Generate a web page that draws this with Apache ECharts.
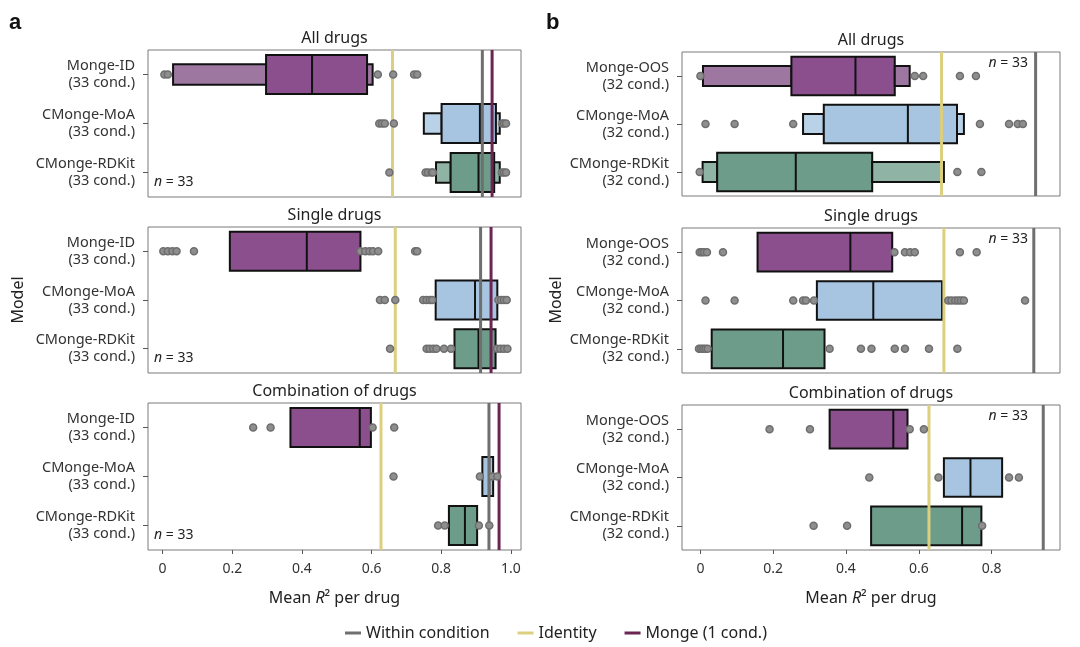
<!DOCTYPE html>
<html>
<head>
<meta charset="utf-8">
<script src="https://cdn.jsdelivr.net/npm/echarts@6/dist/echarts.min.js"></script>
<style>
  html, body { margin: 0; padding: 0; background: #fff; }
  #chart { width: 1080px; height: 647px; }
</style>
</head>
<body>
<div id="chart"></div>
<script>
// categories
var modelsA = ['Monge-ID\n(33 cond.)', 'CMonge-MoA\n(33 cond.)', 'CMonge-RDKit\n(33 cond.)'];
var modelsB = ['Monge-OOS\n(32 cond.)', 'CMonge-MoA\n(32 cond.)', 'CMonge-RDKit\n(32 cond.)'];
var panelTitles = ['All drugs', 'Single drugs', 'Combination of drugs'];
var tickValuesA = [0, 0.2, 0.4, 0.6, 0.8, 1.0];
var tickValuesB = [0, 0.2, 0.4, 0.6, 0.8];

// boxes: [model, low, high, level]  (level 1 = quartile box, 2 = next letter value)
var boxesA_all = [
  [0, 0.030, 0.297, 2], [0, 0.297, 0.587, 1], [0, 0.587, 0.603, 2],
  [1, 0.750, 0.801, 2], [1, 0.801, 0.957, 1], [1, 0.957, 0.968, 2],
  [2, 0.785, 0.827, 2], [2, 0.827, 0.952, 1], [2, 0.952, 0.968, 2]
];
var mediansA_all = [0.429, 0.911, 0.907];
var outliersA_all = [
  [0, 0.005], [0, 0.015], [0, 0.618], [0, 0.662], [0, 0.722], [0, 0.731],
  [1, 0.622], [1, 0.630], [1, 0.638], [1, 0.664], [1, 0.975], [1, 0.980], [1, 0.986],
  [2, 0.651], [2, 0.755], [2, 0.762], [2, 0.772], [2, 0.776], [2, 0.974], [2, 0.980], [2, 0.986]
];
var refA_all = [0.918, 0.660, 0.946]; // within condition, identity, monge (1 cond.)

var boxesA_single = [[0, 0.193, 0.568, 1], [1, 0.784, 0.961, 1], [2, 0.838, 0.956, 1]];
var mediansA_single = [0.414, 0.897, 0.907];
var outliersA_single = [
  [0, 0.002], [0, 0.015], [0, 0.028], [0, 0.040], [0, 0.090],
  [0, 0.568], [0, 0.582], [0, 0.594], [0, 0.604], [0, 0.619], [0, 0.725], [0, 0.731],
  [1, 0.624], [1, 0.638], [1, 0.668], [1, 0.748], [1, 0.758], [1, 0.767], [1, 0.774],
  [1, 0.964], [1, 0.972], [1, 0.980], [1, 0.988],
  [2, 0.653], [2, 0.758], [2, 0.767], [2, 0.777], [2, 0.786], [2, 0.808], [2, 0.828],
  [2, 0.960], [2, 0.970], [2, 0.980], [2, 0.990]
];
var refA_single = [0.913, 0.668, 0.943];

var boxesA_comb = [[0, 0.367, 0.598, 1], [1, 0.918, 0.949, 1], [2, 0.822, 0.903, 1]];
var mediansA_comb = [0.566, 0.938, 0.868];
var outliersA_comb = [
  [0, 0.260], [0, 0.310], [0, 0.603], [0, 0.665],
  [1, 0.663], [1, 0.911], [1, 0.947], [1, 0.961],
  [2, 0.791], [2, 0.810], [2, 0.908], [2, 0.938]
];
var refA_comb = [0.937, 0.627, 0.966];

var boxesB_all = [
  [0, 0.007, 0.250, 2], [0, 0.250, 0.534, 1], [0, 0.534, 0.575, 2],
  [1, 0.282, 0.339, 2], [1, 0.339, 0.705, 1], [1, 0.705, 0.724, 2],
  [2, 0.006, 0.046, 2], [2, 0.046, 0.472, 1], [2, 0.472, 0.669, 2]
];
var mediansB_all = [0.426, 0.570, 0.262];
var outliersB_all = [
  [0, 0.000], [0, 0.589], [0, 0.612], [0, 0.713], [0, 0.757],
  [1, 0.014], [1, 0.094], [1, 0.255], [1, 0.768], [1, 0.848], [1, 0.872], [1, 0.886],
  [2, -0.002], [2, 0.706], [2, 0.772]
];
var refB_all = [0.921, 0.6625];

var boxesB_single = [[0, 0.157, 0.527, 1], [1, 0.320, 0.664, 1], [2, 0.031, 0.341, 1]];
var mediansB_single = [0.412, 0.475, 0.227];
var outliersB_single = [
  [0, -0.002], [0, 0.004], [0, 0.010], [0, 0.018], [0, 0.062],
  [0, 0.533], [0, 0.562], [0, 0.576], [0, 0.589], [0, 0.713], [0, 0.759],
  [1, 0.014], [1, 0.094], [1, 0.255], [1, 0.282], [1, 0.290], [1, 0.312],
  [1, 0.681], [1, 0.690], [1, 0.700], [1, 0.708], [1, 0.716], [1, 0.724], [1, 0.892],
  [2, -0.004], [2, 0.002], [2, 0.008], [2, 0.014], [2, 0.020],
  [2, 0.355], [2, 0.441], [2, 0.470], [2, 0.534], [2, 0.562], [2, 0.628], [2, 0.706]
];
var refB_single = [0.916, 0.669];

var boxesB_comb = [[0, 0.355, 0.569, 1], [1, 0.669, 0.829, 1], [2, 0.469, 0.772, 1]];
var mediansB_comb = [0.530, 0.742, 0.719];
var outliersB_comb = [
  [0, 0.190], [0, 0.301], [0, 0.575], [0, 0.614],
  [1, 0.464], [1, 0.654], [1, 0.848], [1, 0.875],
  [2, 0.311], [2, 0.403], [2, 0.774]
];
var refB_comb = [0.942, 0.628];

var refNames = ['Within condition', 'Identity', 'Monge (1 cond.)'];
var refColors = ['#6f6f6f', '#dccf7e', '#6c2453'];
var boxColors = [['#8a4f8c', '#9d77a0'], ['#a7c5e1', '#bad2e7'], ['#6e9c8b', '#8fb4a6']];
var FONT = 'Noto Sans';

var panels = [
  { models: modelsA, boxes: boxesA_all, medians: mediansA_all, outliers: outliersA_all, refs: refA_all },
  { models: modelsA, boxes: boxesA_single, medians: mediansA_single, outliers: outliersA_single, refs: refA_single },
  { models: modelsA, boxes: boxesA_comb, medians: mediansA_comb, outliers: outliersA_comb, refs: refA_comb },
  { models: modelsB, boxes: boxesB_all, medians: mediansB_all, outliers: outliersB_all, refs: refB_all },
  { models: modelsB, boxes: boxesB_single, medians: mediansB_single, outliers: outliersB_single, refs: refB_single },
  { models: modelsB, boxes: boxesB_comb, medians: mediansB_comb, outliers: outliersB_comb, refs: refB_comb }
];

// layout of the six panels
var gridPos = [
  { left: 148, top: 50, width: 373, height: 147 },
  { left: 148, top: 227, width: 373, height: 146 },
  { left: 148, top: 403, width: 373, height: 147 },
  { left: 682, top: 52, width: 378, height: 144 },
  { left: 682, top: 228, width: 378, height: 145 },
  { left: 682, top: 405, width: 378, height: 145 }
];

var mychart = echarts.init(document.getElementById('chart'));

function renderBox(params, api) {
  var m = api.value(0), lo = api.value(1), hi = api.value(2), lvl = api.value(3);
  var p0 = api.coord([lo, m]);
  var p1 = api.coord([hi, m]);
  var band = api.size([0, 1])[1];
  var h = lvl === 1 ? band * 0.8 : band * 0.42;
  return {
    type: 'rect',
    shape: { x: p0[0], y: p0[1] - h / 2, width: p1[0] - p0[0], height: h },
    style: { fill: boxColors[m][lvl - 1], stroke: '#111', lineWidth: 2 }
  };
}

function renderMedian(params, api) {
  var p = api.coord([api.value(1), api.value(0)]);
  var h = api.size([0, 1])[1] * 0.8;
  return {
    type: 'line',
    shape: { x1: p[0], y1: p[1] - h / 2, x2: p[0], y2: p[1] + h / 2 },
    style: { stroke: '#111', lineWidth: 2 }
  };
}

function makeRefRender(color) {
  return function (params, api) {
    var x = api.coord([api.value(0), 0])[0];
    var cs = params.coordSys;
    return {
      type: 'line',
      shape: { x1: x, y1: cs.y, x2: x, y2: cs.y + cs.height },
      style: { stroke: color, lineWidth: 3 }
    };
  };
}

var grids = [], xAxes = [], yAxes = [], series = [];
panels.forEach(function (p, i) {
  var isA = i < 3;
  var bottom = i === 2 || i === 5;
  var ticks = isA ? tickValuesA : tickValuesB;
  grids.push({
    left: gridPos[i].left, top: gridPos[i].top, width: gridPos[i].width, height: gridPos[i].height,
    show: true, borderColor: '#7a7a7a', borderWidth: 1, containLabel: false
  });
  xAxes.push({
    gridIndex: i, type: 'value',
    min: isA ? -0.042 : -0.0506, max: isA ? 1.029 : 0.988,
    axisLine: { show: false, onZero: false },
    splitLine: { show: false },
    axisTick: { show: bottom, length: 4, customValues: ticks, lineStyle: { color: '#555' } },
    axisLabel: {
      show: bottom, customValues: ticks, margin: 12,
      fontSize: 14, color: '#333', fontFamily: FONT,
      formatter: function (v) { return v === 0 ? '0' : v.toFixed(1); }
    },
    name: bottom ? '{n|Mean }{r|R}{n|\u00b2 per drug}' : '',
    nameLocation: 'middle', nameGap: 40,
    nameTextStyle: {
      rich: {
        n: { fontSize: 16, color: '#222', fontFamily: FONT },
        r: { fontSize: 16, color: '#222', fontFamily: FONT, fontStyle: 'italic' }
      }
    }
  });
  yAxes.push({
    gridIndex: i, type: 'category', data: p.models, inverse: true,
    axisLine: { show: false, onZero: false },
    axisTick: { show: true, length: 5, alignWithLabel: true, lineStyle: { color: '#555' } },
    axisLabel: { margin: 13, fontSize: 14.5, lineHeight: 17, color: '#333', fontFamily: FONT, align: 'right' }
  });

  series.push({
    type: 'custom', xAxisIndex: i, yAxisIndex: i, z: 2,
    data: p.boxes, encode: { x: [1, 2], y: 0 }, renderItem: renderBox, silent: true
  });
  series.push({
    type: 'custom', xAxisIndex: i, yAxisIndex: i, z: 3,
    data: p.medians.map(function (v, k) { return [k, v]; }),
    encode: { x: 1, y: 0 }, renderItem: renderMedian, silent: true
  });
  p.refs.forEach(function (v, k) {
    series.push({
      name: refNames[k], type: 'custom', xAxisIndex: i, yAxisIndex: i, z: 4,
      itemStyle: { color: refColors[k] },
      data: [[v, 0]], encode: { x: 0, y: 1 }, renderItem: makeRefRender(refColors[k]), silent: true
    });
  });
  series.push({
    type: 'scatter', xAxisIndex: i, yAxisIndex: i, z: 5,
    data: p.outliers.map(function (o) { return [o[1], o[0]]; }),
    symbolSize: 7,
    itemStyle: { color: '#8e8e8e', borderColor: '#6e6e6e', borderWidth: 1.5, opacity: 1 },
    silent: true
  });
});

var graphics = [
  { type: 'text', style: { text: 'a', x: 9, y: 12, fontSize: 22, fontWeight: 'bold', fontFamily: 'Liberation Sans', fill: '#111' } },
  { type: 'text', style: { text: 'b', x: 546, y: 12, fontSize: 22, fontWeight: 'bold', fontFamily: 'Liberation Sans', fill: '#111' } },
  { type: 'text', rotation: Math.PI / 2, x: 18, y: 300,
    style: { text: 'Model', fontSize: 16, fontFamily: FONT, fill: '#222', align: 'center', verticalAlign: 'middle' } },
  { type: 'text', rotation: Math.PI / 2, x: 556, y: 300,
    style: { text: 'Model', fontSize: 16, fontFamily: FONT, fill: '#222', align: 'center', verticalAlign: 'middle' } }
];
gridPos.forEach(function (g, i) {
  graphics.push({
    type: 'text',
    style: {
      text: panelTitles[i % 3], x: g.left + g.width / 2, y: g.top - 12,
      fontSize: 16, fontFamily: FONT, fill: '#222', align: 'center', verticalAlign: 'middle'
    }
  });
  var isA = i < 3;
  graphics.push({
    type: 'text',
    style: {
      text: '{i|n} = 33',
      x: isA ? g.left + 6 : g.left + g.width - 32,
      y: isA ? g.top + g.height - 15 : g.top + 11,
      align: isA ? 'left' : 'right', verticalAlign: 'middle',
      fontSize: 14, fontFamily: FONT, fill: '#222',
      rich: { i: { fontStyle: 'italic', fontSize: 14, fontFamily: FONT, fill: '#222' } }
    }
  });
});

var option = {
  animation: false,
  textStyle: { fontFamily: FONT },
  grid: grids,
  xAxis: xAxes,
  yAxis: yAxes,
  legend: {
    data: refNames, left: 340, top: 620, icon: 'rect', itemWidth: 16, itemHeight: 3, itemGap: 28,
    textStyle: { fontSize: 16, color: '#222', fontFamily: FONT }
  },
  graphic: graphics,
  series: series
};
mychart.setOption(option);
</script>
</body>
</html>
